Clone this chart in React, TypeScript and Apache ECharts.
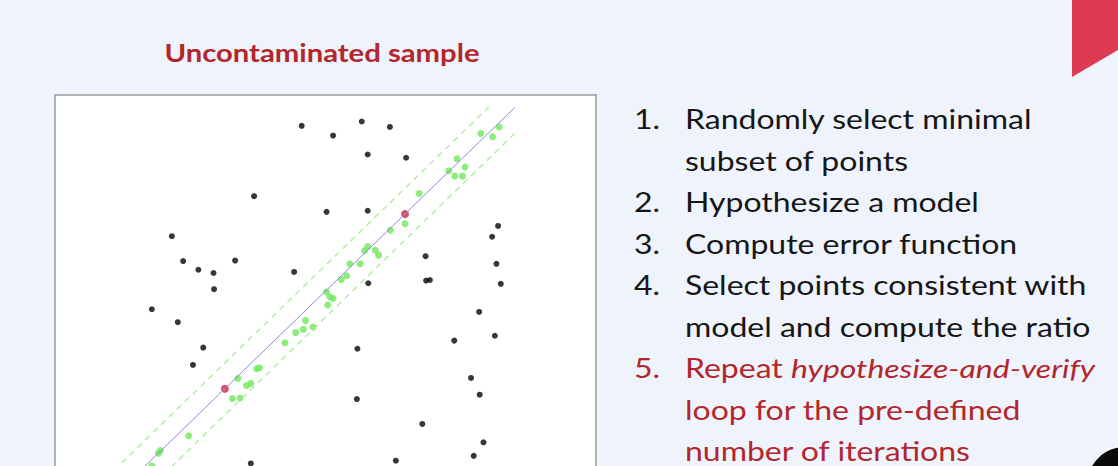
import React, { useEffect, useRef } from "react";
import * as echarts from "echarts";

// Data (plot units: x 0..100 across the box, y 0..80 from the box's lower limit)
const outliers: number[][] = [
  [45.6, 74.3], [51.4, 72.5], [56.7, 75.1], [61.9, 74.1], [57.8, 69.0], [64.9, 68.4],
  [36.8, 61.3], [50.2, 58.4], [57.8, 58.6], [21.6, 53.9], [23.7, 49.3], [26.5, 47.7],
  [29.3, 47.1], [33.3, 49.4], [44.2, 47.3], [29.4, 44.1], [17.9, 40.4], [22.7, 38.0],
  [27.4, 33.3], [25.5, 30.1], [36.2, 11.9], [81.9, 55.8], [80.8, 53.8], [68.5, 50.2],
  [81.6, 48.8], [57.9, 45.2], [68.6, 45.7], [69.3, 45.8], [82.4, 45.1], [78.4, 39.9],
  [81.3, 35.5], [73.8, 34.6], [55.9, 33.1], [76.9, 27.7], [78.5, 24.6], [55.8, 23.8],
  [67.9, 19.2], [79.2, 15.8], [77.4, 13.3], [63.0, 12.4],
];

const inliers: number[][] = [
  [82.1, 74.1], [80.9, 72.3], [78.7, 72.9], [74.3, 68.2], [72.8, 66.0], [73.9, 65.0],
  [75.3, 65.0], [75.8, 66.7], [67.3, 61.8], [64.7, 56.2], [62.0, 55.0], [57.8, 52.0],
  [57.2, 51.2], [59.2, 51.3], [59.8, 50.4], [54.5, 48.8], [56.4, 48.8], [53.9, 46.6],
  [52.9, 45.9], [50.2, 43.6], [50.8, 42.7], [51.4, 42.4], [50.4, 41.2], [46.3, 38.3],
  [45.9, 36.7], [44.5, 36.1], [47.7, 37.1], [42.5, 34.2], [37.3, 29.4], [37.8, 29.6],
  [33.8, 27.6], [35.4, 26.3], [36.2, 26.7], [32.8, 23.9], [34.2, 24.0], [24.7, 17.0],
  [19.5, 14.3], [19.1, 13.8], [17.9, 11.4],
];

const minimalSample: number[][] = [[31.4, 25.7], [64.7, 58.0]];

const modelLine: number[][] = [[12, 6.9], [85, 77.7]];
const upperBound: number[][] = [[5, 4.9], [80.2, 77.8]];
const lowerBound: number[][] = [[20, 9.8], [85.6, 73.5]];

const titleText = "Uncontaminated sample";

const stepNumbers = ["1.", "2.", "3.", "4.", "5."];
const stepLines: string[][] = [
  ["Randomly select minimal", "subset of points"],
  ["Hypothesize a model"],
  ["Compute error function"],
  ["Select points consistent with", "model and compute the ratio"],
  ["{n|Repeat }{i|hypothesize-and-verify}", "{n|loop for the pre-defined}", "{n|number of iterations}"],
];
const stepHighlighted = [false, false, false, false, true];

export default function App() {
  const ref = useRef<HTMLDivElement>(null);

  useEffect(() => {
    if (!ref.current) return;
    const chart = echarts.init(ref.current, null, { renderer: "svg" });

    const FONT = "Lato, 'Open Sans', sans-serif";
    const textSize = 26;
    const stretch = 1.23;
    const lineGap = 41.5;
    const firstRowY = 119;
    const dark = "#161616";
    const red = "#b3262b";

    const textEls: any[] = [];
    let row = 0;
    stepLines.forEach((lines, i) => {
      const color = stepHighlighted[i] ? red : dark;
      textEls.push({
        type: "text",
        x: 634,
        y: firstRowY + row * lineGap,
        scaleX: stretch,
        style: {
          text: stepNumbers[i],
          fill: color,
          font: `${textSize}px ${FONT}`,
          verticalAlign: "middle",
          align: "left",
        },
      });
      lines.forEach((ln) => {
        const rich = stepHighlighted[i];
        textEls.push({
          type: "text",
          x: 685,
          y: firstRowY + row * lineGap,
          scaleX: stretch,
          style: rich
            ? {
                text: ln,
                verticalAlign: "middle",
                align: "left",
                rich: {
                  n: { fill: color, fontSize: textSize, fontFamily: FONT },
                  i: { fill: color, fontSize: textSize, fontFamily: FONT, fontStyle: "italic", padding: [0, 1, 0, 0] },
                },
              }
            : {
                text: ln,
                fill: color,
                font: `${textSize}px ${FONT}`,
                verticalAlign: "middle",
                align: "left",
              },
        });
        row += 1;
      });
    });

    chart.setOption({
      animation: false,
      backgroundColor: "#eff3fb",
      grid: {
        left: 55,
        top: 95,
        width: 541,
        height: 432.8,
        outerBoundsMode: "none",
        containLabel: false,
        show: true,
        backgroundColor: "#ffffff",
        borderColor: "#9a9a9a",
        borderWidth: 1.5,
      },
      xAxis: { type: "value", min: 0, max: 100, show: false },
      yAxis: { type: "value", min: 0, max: 80, show: false },
      series: [
        {
          type: "line",
          data: upperBound,
          symbol: "none",
          lineStyle: { color: "#a9ec9b", width: 1.3, type: [6, 5] },
        },
        {
          type: "line",
          data: lowerBound,
          symbol: "none",
          lineStyle: { color: "#a9ec9b", width: 1.3, type: [6, 5] },
        },
        {
          type: "line",
          data: modelLine,
          symbol: "none",
          lineStyle: { color: "#8a8ade", width: 1 },
        },
        {
          type: "scatter",
          data: inliers,
          symbolSize: 7,
          itemStyle: { color: "#6fe95a" },
        },
        {
          type: "scatter",
          data: outliers,
          symbolSize: 6,
          itemStyle: { color: "#050505" },
        },
        {
          type: "scatter",
          data: minimalSample,
          symbolSize: 8,
          itemStyle: { color: "#d0263c" },
        },
      ],
      graphic: [
        {
          type: "text",
          x: 322,
          y: 52,
          scaleX: 1.17,
          style: {
            text: titleText,
            fill: red,
            font: `bold 25px ${FONT}`,
            align: "center",
            verticalAlign: "middle",
          },
        },
        {
          type: "polygon",
          shape: { points: [[1072, 0], [1118, 0], [1118, 50], [1072, 77]] },
          style: { fill: "#dc3b52" },
        },
        {
          type: "circle",
          shape: { cx: 1125, cy: 485, r: 38 },
          style: { fill: "#0a0a0a" },
        },
        ...textEls,
      ],
    });

    return () => chart.dispose();
  }, []);

  return (
    <div
      ref={ref}
      style={{ position: "fixed", left: 0, top: 0, width: 1118, height: 466 }}
    />
  );
}
